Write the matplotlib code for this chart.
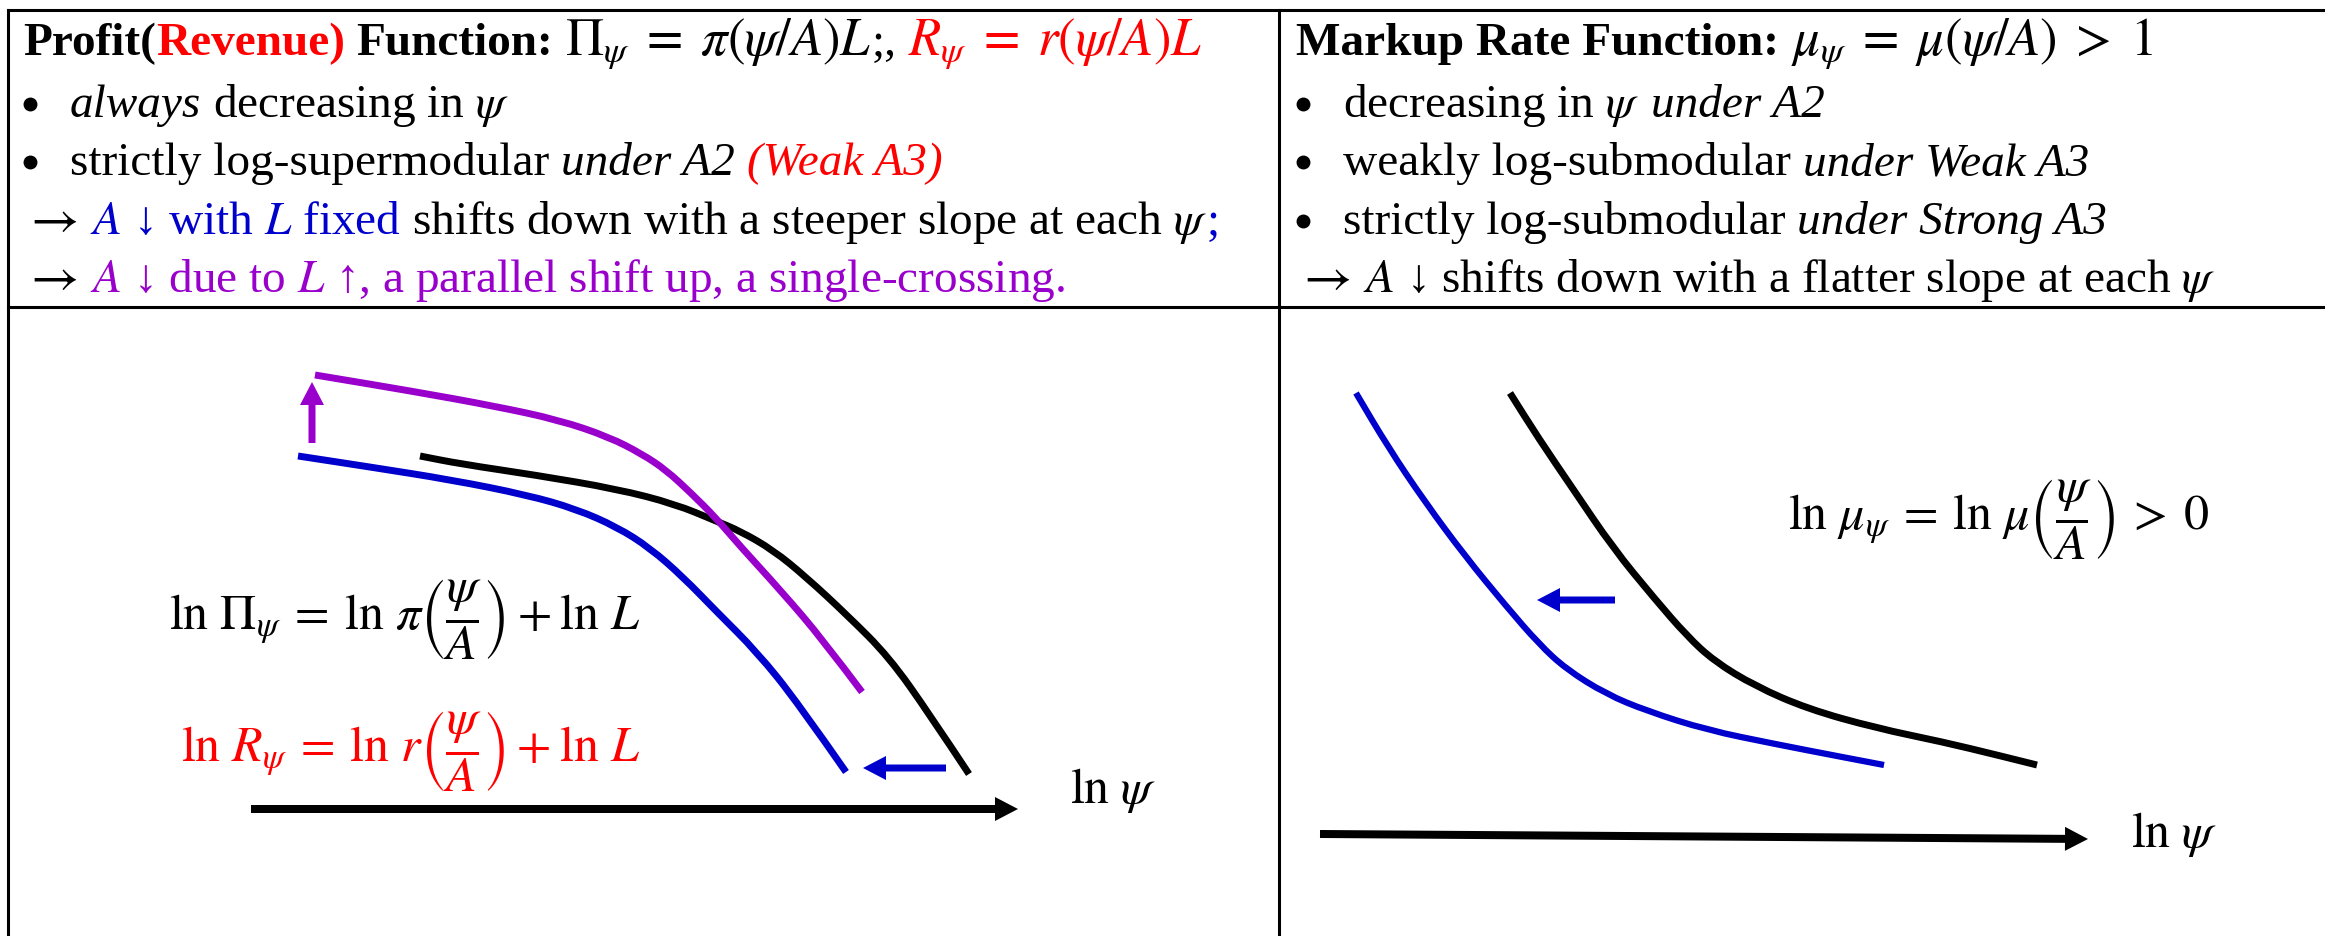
import numpy as np
import matplotlib.pyplot as plt
from matplotlib.patches import FancyArrow, PathPatch
from matplotlib.path import Path

plt.rcParams['font.family'] = ['Liberation Serif', 'DejaVu Serif']
plt.rcParams['mathtext.fontset'] = 'stix'

BLUE = '#0000cc'
RED = '#ff0000'
PURPLE = '#9900cc'

# hand-sketched curves, (x, y) in canvas pixels, y grows downward
profit_x = [420, 461, 535, 617, 675, 716, 740, 773, 806, 847, 889, 930, 969]
profit_y = [456, 464, 475, 489, 504, 521, 531, 550, 577, 615, 657, 715, 774]
profit_low_x = [298, 370, 452, 527, 576, 617, 650, 683, 716, 757, 798, 846]
profit_low_y = [456, 467, 480, 495, 509, 527, 548, 577, 611, 652, 703, 772]
profit_up_x = [315, 411, 494, 559, 609, 642, 666, 691, 716, 740, 782, 823, 862]
profit_up_y = [375, 391, 406, 420, 437, 454, 470, 493, 518, 546, 592, 640, 692]

markup_x = [1510, 1539, 1573, 1613, 1654, 1687, 1714, 1755, 1808, 1876, 1943, 1997, 2037]
markup_y = [393, 439, 489, 548, 598, 636, 661, 686, 709, 728, 742, 755, 765]
markup_low_x = [1356, 1388, 1425, 1465, 1506, 1539, 1566, 1606, 1647, 1707, 1775, 1842, 1884]
markup_low_y = [393, 447, 502, 556, 606, 644, 669, 694, 711, 730, 744, 757, 765]

W, H = 2325, 936
fig = plt.figure(figsize=(W / 100, H / 100), dpi=100)
ax = fig.add_axes([0, 0, 1, 1])
ax.set_xlim(0, W)
ax.set_ylim(H, 0)
ax.axis('off')
renderer = fig.canvas.get_renderer()

FS = 34
TO = r'$\rightarrow$'


def write_line(x, y, parts, size=FS):
    """Lay out coloured/styled pieces of text one after another on a baseline."""
    space = 0.25 * size * 100 / 72
    for txt, color, style, weight in parts:
        lead = len(txt) - len(txt.lstrip(' '))
        trail = len(txt) - len(txt.rstrip(' '))
        body = txt.strip(' ')
        # stand-alone formulas are set a little larger, like an equation editor does
        is_formula = body.startswith('$') and body.count('$') == 2 and len(body) > 12
        fs = size + 4 if is_formula else size
        x += lead * space
        t = ax.text(x, y, body, fontsize=fs, color=color,
                    style=style, weight=weight, va='baseline', ha='left')
        bb = t.get_window_extent(renderer)
        x = bb.x1 + trail * space
    return x


def bullet(x, y, parts):
    ax.plot([x + 7], [y - 13], 'o', color='black', ms=9)
    write_line(x + 47, y, parts)


def curve(xs, ys, color, lw):
    # smooth path through the sketch points using quadratic Bezier segments
    p = np.column_stack([xs, ys]).astype(float)
    verts = [p[0], (p[0] + p[1]) / 2]
    codes = [Path.MOVETO, Path.LINETO]
    for i in range(1, len(p) - 1):
        end = p[-1] if i == len(p) - 2 else (p[i] + p[i + 1]) / 2
        verts += [p[i], end]
        codes += [Path.CURVE3, Path.CURVE3]
    ax.add_patch(PathPatch(Path(verts, codes), fill=False, edgecolor=color,
                           lw=lw, capstyle='butt', joinstyle='round'))


def arrow(x, y, dx, dy, color, width):
    ax.add_patch(FancyArrow(x, y, dx, dy, width=width, head_width=24, head_length=23,
                            length_includes_head=True, color=color, lw=0))


# table grid
lw = 2.2
ax.plot([8, W], [10, 10], color='k', lw=lw)
ax.plot([8, W], [307, 307], color='k', lw=lw)
ax.plot([8, 8], [10, H], color='k', lw=lw)
ax.plot([1279, 1279], [10, H], color='k', lw=lw)

N, I, B = 'normal', 'italic', 'bold'
k = 'black'

# left header
x0 = 23
write_line(x0, 55, [('Profit(', k, N, B), ('Revenue)', RED, N, B),
                    (' Function: ', k, N, B),
                    (r'$\Pi_{\psi}\;=\;\pi(\psi/A)L$', k, N, N), (';, ', k, N, N),
                    (r'$R_{\psi}\;=\;r(\psi/A)L$', RED, N, N)])
bullet(x0, 117, [('always', k, I, N), (r' decreasing in $\psi$', k, N, N)])
bullet(x0, 175, [('strictly log-supermodular ', k, N, N), ('under A2 ', k, I, N),
                 ('(Weak A3)', RED, I, N)])
write_line(x0, 234, [(TO + ' ', k, N, N), ('$A$ \u2193 with $L$ fixed ', BLUE, N, N),
                     (r'shifts down with a steeper slope at each $\psi$', k, N, N),
                     (';', BLUE, N, N)])
write_line(x0, 292, [(TO + ' ', k, N, N),
                     ('$A$ \u2193 due to $L$ \u2191, a parallel shift up, a single-crossing.',
                      PURPLE, N, N)])

# right header
x1 = 1296
write_line(x1, 55, [('Markup Rate Function: ', k, N, B),
                    (r'$\mu_{\psi}\;=\;\mu(\psi/A)\;>\;1$', k, N, N)])
bullet(x1, 117, [(r'decreasing in $\psi$ ', k, N, N), ('under A2', k, I, N)])
bullet(x1, 175, [('weakly log-submodular ', k, N, N), ('under Weak A3', k, I, N)])
bullet(x1, 234, [('strictly log-submodular ', k, N, N), ('under Strong A3', k, I, N)])
write_line(x1, 292, [(TO + ' ', k, N, N),
                     ('$A$ \u2193 shifts down with a flatter slope at each $\\psi$', k, N, N)])

# left panel: profit / revenue
curve(profit_x, profit_y, 'black', 5)
curve(profit_low_x, profit_low_y, BLUE, 5)
curve(profit_up_x, profit_up_y, PURPLE, 5)
arrow(251, 809, 1018 - 251, 0, 'black', 8)
arrow(946, 768, 863 - 946, 0, BLUE, 7)
arrow(312, 443, 0, 382 - 443, PURPLE, 7)
ax.text(169, 620, r'$\ln\,\Pi_{\psi}\:=\:\ln\,\pi\left(\dfrac{\psi}{A}\right)\:+\:\ln\,L$',
        fontsize=36, va='center', ha='left')
ax.text(181, 752, r'$\ln\,R_{\psi}\:=\:\ln\,r\left(\dfrac{\psi}{A}\right)\:+\:\ln\,L$',
        fontsize=36, va='center', ha='left', color=RED)
ax.text(1070, 803, r'$\ln\,\psi$', fontsize=36, va='baseline', ha='left')

# right panel: markup rate
curve(markup_x, markup_y, 'black', 5)
curve(markup_low_x, markup_low_y, BLUE, 4.5)
arrow(1320, 834, 2088 - 1320, 839 - 834, 'black', 8)
arrow(1615, 600, 1537 - 1615, 0, BLUE, 7)
ax.text(1788, 520, r'$\ln\,\mu_{\psi}\:=\:\ln\,\mu\left(\dfrac{\psi}{A}\right)\:>\:0$',
        fontsize=36, va='center', ha='left')
ax.text(2131, 847, r'$\ln\,\psi$', fontsize=36, va='baseline', ha='left')

fig.savefig('out.png', dpi=100)
